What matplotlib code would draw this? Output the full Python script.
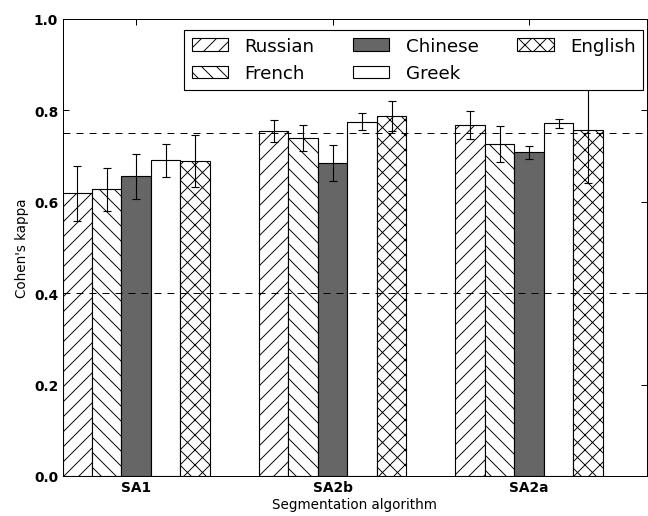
import numpy as np
import matplotlib
matplotlib.use("Agg")
import matplotlib.pyplot as plt

algorithms = ["SA1", "SA2b", "SA2a"]
languages = ["Russian", "French", "Chinese", "Greek", "English"]

# kappa mean and error per language, one value per algorithm
russian = [0.619, 0.754, 0.768]
french = [0.627, 0.739, 0.726]
chinese = [0.656, 0.685, 0.708]
greek = [0.691, 0.775, 0.772]
english = [0.689, 0.787, 0.756]

russian_err = [0.060, 0.024, 0.030]
french_err = [0.047, 0.028, 0.039]
chinese_err = [0.049, 0.039, 0.015]
greek_err = [0.036, 0.019, 0.010]
english_err = [0.057, 0.033, 0.115]

ref_levels = [0.75, 0.4]

plt.rcParams['hatch.linewidth'] = 0.75
plt.rcParams['xtick.direction'] = 'in'
plt.rcParams['ytick.direction'] = 'in'

fig = plt.figure(figsize=(7.2, 5.7444), dpi=90)
ax = fig.add_axes([0.0965, 0.0774, 0.902, 0.884])

values = [russian, french, chinese, greek, english]
errors = [russian_err, french_err, chinese_err, greek_err, english_err]
colors = ['white', 'white', '0.4', 'white', 'white']
hatches = ['//', '\\\\', None, None, 'xx']

x = np.arange(len(algorithms))
w = 0.15
for j, lang in enumerate(languages):
    ax.bar(x + (j - 2) * w, values[j], w, color=colors[j], hatch=hatches[j],
           edgecolor='black', linewidth=0.9, label=lang, zorder=2)
for j in range(len(languages)):
    ax.errorbar(x + (j - 2) * w, values[j], yerr=errors[j], fmt='none',
                ecolor='black', elinewidth=0.9, capsize=3.2, capthick=0.9, zorder=3)

for lv in ref_levels:
    ax.axhline(lv, color='black', linestyle=(0, (7, 6)), linewidth=0.8, zorder=4)

ax.set_xlim(-0.375, 2.6)
ax.set_ylim(0, 1.0)
ax.set_xticks(x)
ax.set_xticklabels(algorithms, fontweight='bold', fontsize=11)
ax.set_yticks(np.arange(0, 1.01, 0.2))
ax.set_yticklabels([f"{v:.1f}" for v in np.arange(0, 1.01, 0.2)],
                   fontweight='bold', fontsize=11)
ax.tick_params(top=True, right=True, length=4.8, width=0.8)
ax.set_xlabel("Segmentation algorithm", fontsize=10.8, labelpad=2)
ax.set_ylabel("Cohen's kappa", fontsize=10.8)

leg = ax.legend(loc='upper right', bbox_to_anchor=(0.993, 0.976), borderaxespad=0,
                ncol=3, fontsize=14.6, fancybox=False, framealpha=1,
                handletextpad=0.9, columnspacing=2.1)
leg.get_frame().set_edgecolor('black')
leg.get_frame().set_linewidth(0.9)
leg.set_zorder(10)

fig.savefig("out.png", dpi=90)
